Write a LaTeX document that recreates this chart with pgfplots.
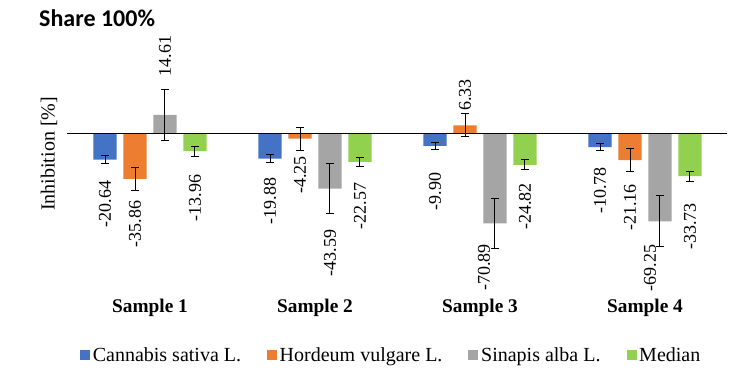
\documentclass[border=0pt]{standalone}
\usepackage{fontspec}
\setmainfont{Liberation Serif}
\newfontfamily\titlefont{Carlito}
\usepackage{pgfplots}
\usepackage{pgfplotstable}
\pgfplotsset{compat=1.18}

\definecolor{cann}{HTML}{4472C4}
\definecolor{hord}{HTML}{ED7D31}
\definecolor{sina}{HTML}{A5A5A5}
\definecolor{medi}{HTML}{92D050}

\pgfplotsset{
  sq legend/.style={legend image code/.code={\fill[##1] (0pt,-3.75pt) rectangle (7.5pt,3.75pt);}},
  bars/.style={ybar, bar width=0.1414, bar shift=0, draw=none, sq legend,
    error bars/y dir=both, error bars/y explicit},
  lbl/.style={only marks, mark=none, forget plot,
    nodes near coords, point meta=explicit symbolic,
    every node near coord/.append style={rotate=90, anchor=center, black,
      font=\fontsize{13.5}{15}\selectfont}},
}

% x = sample, y = value, e = error, ly/dx = where the label sits
\pgfplotstableread{
x y e ly dx
1 -20.64 2.9 -55.7 0
2 -19.88 2.9 -53.3 0
3 -9.90 2.9 -45.9 0
4 -10.78 2.9 -45.1 0
}\cannabis
\pgfplotstableread{
x y e ly dx
1 -35.86 9.2 -71.4 0
2 -4.25 9.2 -32.8 0
3 6.33 9.2 30.2 0
4 -21.16 9.2 -58.4 0
}\hordeum
\pgfplotstableread{
x y e ly dx
1 14.61 19.9 60.9 0
2 -43.59 19.9 -94.2 0
3 -70.89 19.9 -105.7 -0.067
4 -69.25 19.9 -106.1 -0.061
}\sinapis
\pgfplotstableread{
x y e ly dx
1 -13.96 3.9 -50.9 0
2 -22.57 3.9 -57.2 0
3 -24.82 3.9 -57.8 0
4 -33.73 3.9 -73.5 0
}\median

\begin{document}
\begin{tikzpicture}
\useasboundingbox (-50.625pt,-61.05pt) rectangle ++(554.25pt,282pt);
\begin{axis}[
  at={(0pt,0pt)}, anchor=south west,
  scale only axis, width=495pt, height=154.3pt,
  xmin=0.5, xmax=4.5, ymin=-127, ymax=35,
  axis line style={draw=none},
  major tick length=0pt,
  ytick=\empty,
  xtick={1,2,3,4},
  xticklabels={Sample 1,Sample 2,Sample 3,Sample 4},
  xticklabel style={font=\fontsize{14.5}{17}\selectfont\bfseries, anchor=base, yshift=-13.3pt},
  ylabel={Inhibition [\%]},
  ylabel style={at={(axis description cs:-0.028,0.684)}, anchor=center, font=\fontsize{15}{18}\selectfont},
  clip=false,
  legend columns=4,
  legend style={at={(0.491,-0.294)}, anchor=center, draw=none, fill=none,
    font=\fontsize{15}{18}\selectfont,
    /tikz/every even column/.append style={column sep=17.5pt}},
  error bars/error bar style={line width=0.75pt, black},
  error bars/error mark options={rotate=90, mark size=3pt, line width=0.75pt, black},
]
\addplot[bars, fill=cann] table[x expr=\thisrow{x}-0.2727, y=y, y error=e] \cannabis;
\addlegendentry{Cannabis sativa L.}
\addplot[bars, fill=hord] table[x expr=\thisrow{x}-0.0909, y=y, y error=e] \hordeum;
\addlegendentry{Hordeum vulgare L.}
\addplot[bars, fill=sina] table[x expr=\thisrow{x}+0.0909, y=y, y error=e] \sinapis;
\addlegendentry{Sinapis alba L.}
\addplot[bars, fill=medi] table[x expr=\thisrow{x}+0.2727, y=y, y error=e] \median;
\addlegendentry{Median}

% zero line
\addplot[sharp plot, black, line width=1.2pt, forget plot] coordinates {(0.5,0) (4.5,0)};

% value labels
\addplot[lbl] table[x expr=\thisrow{x}-0.2727+\thisrow{dx}, y=ly, meta=y] \cannabis;
\addplot[lbl] table[x expr=\thisrow{x}-0.0909+\thisrow{dx}, y=ly, meta=y] \hordeum;
\addplot[lbl] table[x expr=\thisrow{x}+0.0909+\thisrow{dx}, y=ly, meta=y] \sinapis;
\addplot[lbl] table[x expr=\thisrow{x}+0.2727+\thisrow{dx}, y=ly, meta=y] \median;
\end{axis}
\node[anchor=base west, inner sep=0pt, font=\titlefont\bfseries\fontsize{18}{22}\selectfont]
  at (-21.4pt,201.4pt) {Share 100\%};
\end{tikzpicture}
\end{document}
